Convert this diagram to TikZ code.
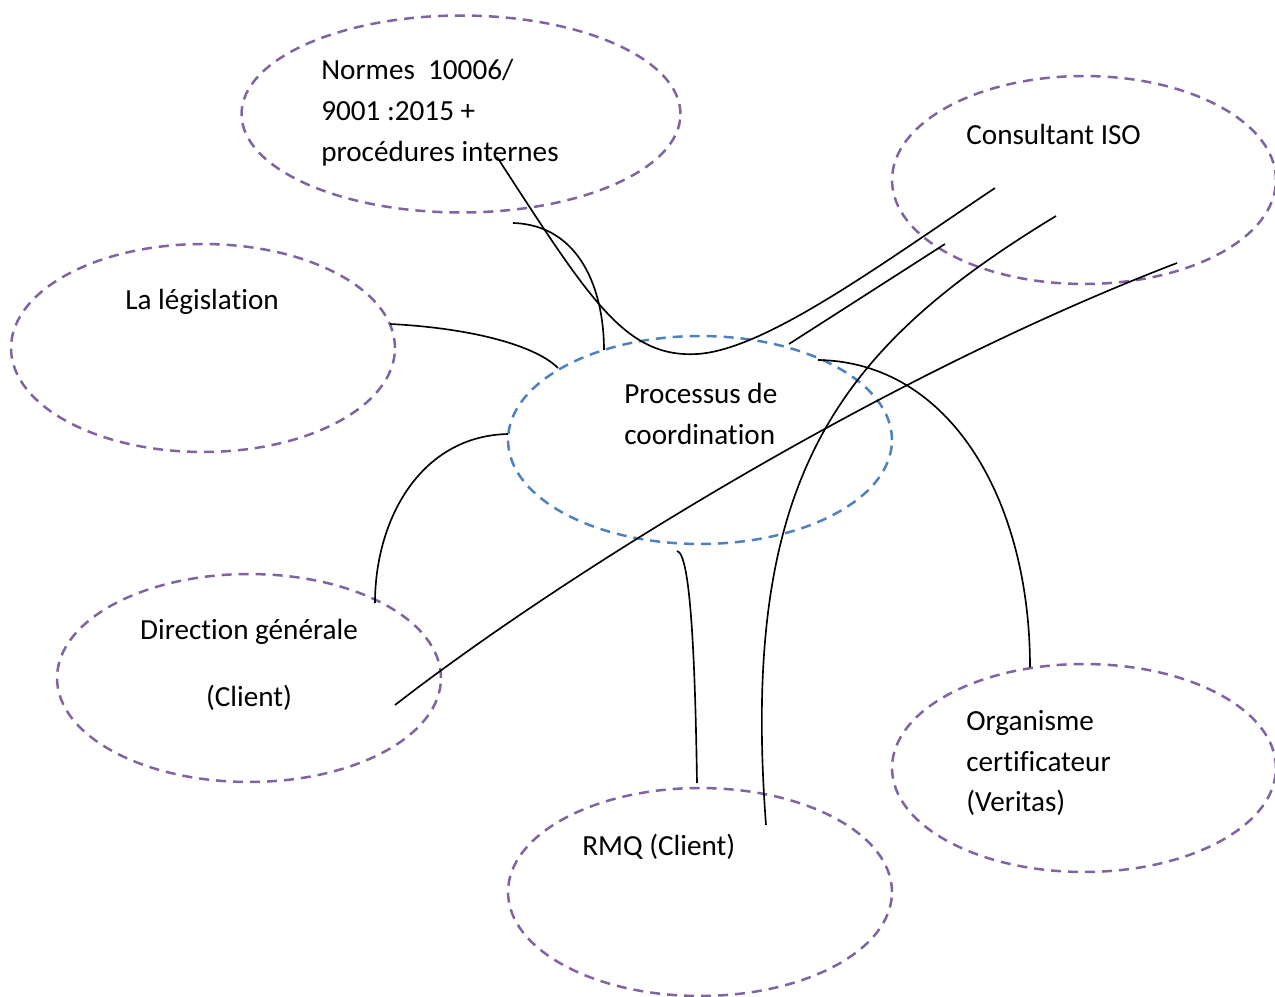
\documentclass[tikz,border=0pt]{standalone}
\usepackage{fontspec}
\setmainfont{Carlito}[Ligatures={NoCommon}]
\usepackage{tikz}
\usetikzlibrary{shapes.geometric}
\definecolor{ellPurple}{HTML}{8064A2}
\definecolor{ellBlue}{HTML}{4F81BD}
\tikzset{myEll/.style={ellipse, draw=ellPurple, line width=0.05cm, dash pattern=on 0.2cm off 0.14cm, minimum width=7.68cm, minimum height=4.16cm, inner sep=0pt}}
\tikzset{myEllMain/.style={myEll, draw=ellBlue}}
\tikzset{myTxt/.style={anchor=west, align=left, inner sep=0pt, font=\fontsize{16.6}{23.3}\selectfont}}
\tikzset{myLink/.style={draw=black, line width=0.033cm}}

\begin{document}
\begin{tikzpicture}[x=0.02cm, y=-0.02cm]
\useasboundingbox (0,0) rectangle (1275,997);

% ellipses
\node[myEll, minimum width=8.78cm, minimum height=3.94cm] (norm) at (461,114) {};
\node[myEll] (cons) at (1084,180) {};
\node[myEll] (legis) at (203,348) {};
\node[myEllMain] (proc) at (700,440) {};
\node[myEll] (dir) at (249,678) {};
\node[myEll] (rmq) at (700,892) {};
\node[myEll] (orga) at (1084,768) {};

% texts
\node[myTxt] (normT) at (321,113) {Normes\ \ 10006/\\9001 :2015 +\\procédures internes};
\node[myTxt] (consT) at (966,134) {Consultant ISO};
\node[myTxt] (legisT) at (125,302) {La législation};
\node[myTxt] (procT) at (624,414) {Processus de\\coordination};
\node[myTxt, anchor=center, align=center] (dirT) at (249,665) {Direction générale\\[14.7pt](Client)};
\node[myTxt] (rmqT) at (582,847) {RMQ (Client)};
\node[myTxt] (orgaT) at (966,763) {Organisme\\certificateur\\(Veritas)};

% link ends
\coordinate (nA) at (497,157);
\coordinate (cA) at (995,188);
\coordinate (nB) at (513,223);
\coordinate (pB) at (604,350);
\coordinate (lC) at (390,324);
\coordinate (pC) at (558,368);
\coordinate (pD) at (789,344);
\coordinate (cD) at (945,244);
\coordinate (cE) at (1056,216);
\coordinate (rE) at (766,825);
\coordinate (dF) at (395,705);
\coordinate (cF) at (1177,263);
\coordinate (pG) at (818,360);
\coordinate (oG) at (1030,667);
\coordinate (pH) at (508,434);
\coordinate (dH) at (375,603);
\coordinate (pI) at (677,551);
\coordinate (rI) at (697,783);

% links
\draw[myLink] (nA) .. controls (590,300) and (625,358) .. (697,354) .. controls (765,350) and (880,265) .. (cA);
\draw[myLink] (nB) .. controls (580,225) and (604,290) .. (pB);
\draw[myLink] (lC) .. controls (470,328) and (535,345) .. (pC);
\draw[myLink] (pD) -- (cD);
\draw[myLink] (cE) .. controls (835,350) and (740,480) .. (rE);
\draw[myLink] (dF) .. controls (560,577) and (880,377) .. (cF);
\draw[myLink] (pG) .. controls (950,362) and (1030,500) .. (oG);
\draw[myLink] (pH) .. controls (420,436) and (375,520) .. (dH);
\draw[myLink] (pI) .. controls (690,553) and (695,650) .. (rI);

\end{tikzpicture}
\end{document}
